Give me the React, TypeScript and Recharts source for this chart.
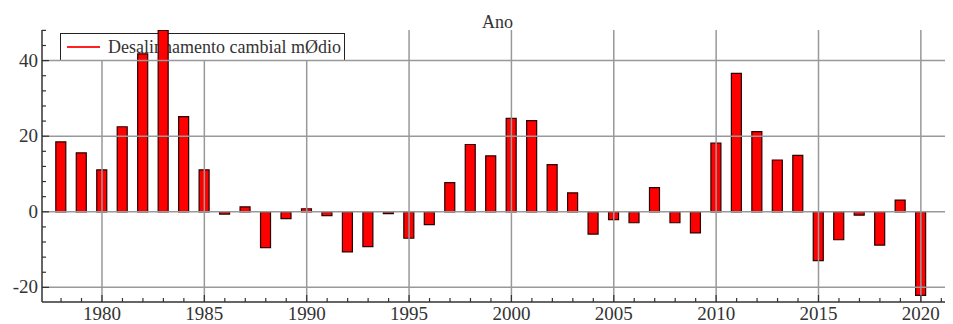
import React from 'react';
import { BarChart, Bar, XAxis, YAxis, ReferenceLine, Legend } from 'recharts';

const years = [
  1978, 1979, 1980, 1981, 1982, 1983, 1984, 1985, 1986, 1987, 1988, 1989, 1990, 1991,
  1992, 1993, 1994, 1995, 1996, 1997, 1998, 1999, 2000, 2001, 2002, 2003, 2004, 2005,
  2006, 2007, 2008, 2009, 2010, 2011, 2012, 2013, 2014, 2015, 2016, 2017, 2018, 2019, 2020,
];
const desalinhamento = [
  18.5, 15.6, 11.1, 22.5, 41.8, 48.0, 25.2, 11.1, -0.6, 1.3, -9.5, -1.8, 0.8, -1.0,
  -10.6, -9.2, -0.5, -7.0, -3.4, 7.7, 17.8, 14.8, 24.7, 24.1, 12.5, 5.0, -5.9, -2.1,
  -2.9, 6.4, -2.9, -5.6, 18.2, 36.6, 21.2, 13.7, 14.9, -12.9, -7.4, -0.9, -8.8, 3.1, -22.1,
];
const xTicks = [
  1978, 1979, 1980, 1981, 1982, 1983, 1984, 1985, 1986, 1987, 1988, 1989, 1990, 1991,
  1992, 1993, 1994, 1995, 1996, 1997, 1998, 1999, 2000, 2001, 2002, 2003, 2004, 2005,
  2006, 2007, 2008, 2009, 2010, 2011, 2012, 2013, 2014, 2015, 2016, 2017, 2018, 2019,
  2020, 2021,
];
const yTicks = [-20, -16, -12, -8, -4, 0, 4, 8, 12, 16, 20, 24, 28, 32, 36, 40, 44, 48];
const xGrid = [1980, 1985, 1990, 1995, 2000, 2005, 2010, 2015, 2020];
const yGrid = [-20, 0, 20, 40];
const seriesName = 'Desalinhamento cambial mØdio';
const title = 'Ano';

const data = years.map((ano, i) => ({ ano, valor: desalinhamento[i] }));

const FONT = '"Liberation Serif", "Times New Roman", serif';
const X_MIN = 1977.07;
const X_MAX = 2021.57;
const Y_MIN = -23.87;
const Y_MAX = 48.1;

const XTick = (props: any) => {
  const { x, y, payload } = props;
  const major = payload.value % 5 === 0;
  return (
    <g>
      <line x1={x} x2={x} y1={y} y2={y - (major ? 7 : 4)} stroke="#333" strokeWidth={1.2} />
      {major && (
        <text x={x} y={y + 18} textAnchor="middle" fontFamily={FONT} fontSize={19} fill="#333">
          {payload.value}
        </text>
      )}
    </g>
  );
};

const YTick = (props: any) => {
  const { x, y, payload } = props;
  const major = payload.value % 20 === 0;
  return (
    <g>
      <line x1={x} x2={x + (major ? 7 : 4)} y1={y} y2={y} stroke="#333" strokeWidth={1.2} />
      {major && (
        <text x={x - 4} y={y + 6} textAnchor="end" fontFamily={FONT} fontSize={19} fill="#333">
          {payload.value}
        </text>
      )}
    </g>
  );
};

const LegendBox = () => (
  <div
    style={{
      border: '1.5px solid #222',
      height: 28,
      width: 285,
      display: 'flex',
      alignItems: 'center',
      fontFamily: FONT,
      fontSize: 18,
      color: '#333',
      whiteSpace: 'nowrap',
      boxSizing: 'border-box',
    }}
  >
    <span style={{ display: 'inline-block', width: 33, height: 2, background: '#ff2020', marginLeft: 6, marginRight: 8 }} />
    <span>{seriesName}</span>
  </div>
);

const App: React.FC = () => {
  return (
    <div style={{ position: 'relative', width: 945, height: 316 }}>
      <div
        style={{
          position: 'absolute',
          left: 0,
          width: 979,
          top: 4,
          textAlign: 'center',
          fontFamily: FONT,
          fontSize: 18,
          color: '#333',
        }}
      >
        {title}
      </div>
      <BarChart width={945} height={316} data={data} margin={{ top: 22, right: 0, left: 0, bottom: 14 }}>
        {yGrid.map((v) => (
          <ReferenceLine key={'h' + v} y={v} stroke="#999" strokeWidth={1.5} ifOverflow="hidden" />
        ))}
        {xGrid.map((v) =>
          v <= 1990 ? (
            <ReferenceLine
              key={'v' + v}
              segment={[{ x: v, y: Y_MIN }, { x: v, y: 40 }]}
              stroke="#999"
              strokeWidth={1.5}
            />
          ) : (
            <ReferenceLine key={'v' + v} x={v} stroke="#999" strokeWidth={1.5} />
          )
        )}
        <XAxis
          dataKey="ano"
          type="number"
          domain={[X_MIN, X_MAX]}
          allowDataOverflow
          ticks={xTicks}
          interval={0}
          tickLine={false}
          tickSize={0}
          tickMargin={0}
          tick={<XTick />}
          axisLine={{ stroke: '#333', strokeWidth: 1.5 }}
          height={8}
        />
        <YAxis
          type="number"
          domain={[Y_MIN, Y_MAX]}
          allowDataOverflow
          ticks={yTicks}
          interval={0}
          tickLine={false}
          tickSize={0}
          tickMargin={0}
          tick={<YTick />}
          axisLine={{ stroke: '#333', strokeWidth: 1.5 }}
          width={34}
        />
        <Legend
          layout="vertical"
          align="center"
          verticalAlign="middle"
          content={<LegendBox />}
          wrapperStyle={{ position: 'absolute', left: 52, top: 25, width: 'auto', zIndex: -1 }}
        />
        <Bar
          dataKey="valor"
          name={seriesName}
          fill="#ff0000"
          stroke="#2a0000"
          strokeWidth={1.2}
          barSize={10}
          isAnimationActive={false}
        />
      </BarChart>
    </div>
  );
};

export default App;
